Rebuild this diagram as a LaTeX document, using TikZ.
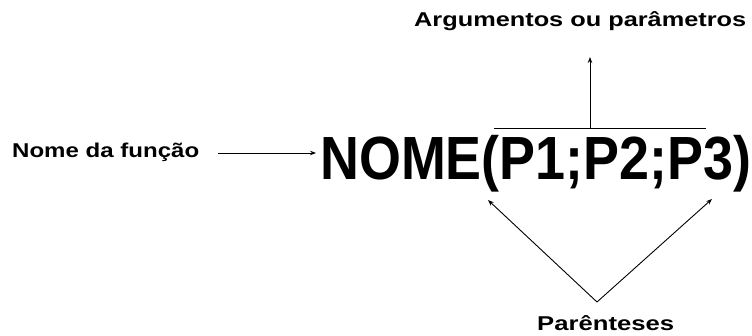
\documentclass[tikz,border=0pt]{standalone}
\usepackage{fontspec}
\setmainfont{Liberation Sans}
\usetikzlibrary{arrows.meta}
\newcommand{\fitw}[2]{\resizebox{#1}{\height}{#2}}
\begin{document}
\begin{tikzpicture}[x=1pt,y=1pt,
  lbl/.style={inner sep=0pt, anchor=base west, font=\fontsize{20}{22}\selectfont\bfseries},
  big/.style={inner sep=0pt, anchor=base west, font=\fontsize{61}{66}\selectfont\bfseries},
  arr/.style={-{Stealth[length=6pt,width=4.5pt]}, line width=0.9pt},
  ln/.style={line width=0.9pt}]
\useasboundingbox (0,0) rectangle (752,-336);
\node[lbl] (arg) at (414,-27) {\fitw{332pt}{Argumentos ou parâmetros}};
\node[lbl] (nome) at (12,-158) {\fitw{187pt}{Nome da função}};
\node[big] (func) at (320,-180) {\fitw{431pt}{NOME(P1;P2;P3)}};
\node[lbl] (par) at (537,-331) {\fitw{137pt}{Parênteses}};
% overline and arrow to arguments
\coordinate (ovl) at (494,-128);
\coordinate (ovr) at (706,-128);
\coordinate (ovm) at (590,-128);
\draw[ln] (ovl) -- (ovr);
\draw[arr] (ovm) -- (590,-57);
% arrow from name label
\coordinate (na) at (218,-153);
\coordinate (nb) at (316,-153);
\draw[arr] (na) -- (nb);
% V arrows to parentheses
\coordinate (apex) at (597,-302);
\coordinate (lp) at (488,-200);
\coordinate (rp) at (712,-199);
\draw[arr] (apex) -- (lp);
\draw[arr] (apex) -- (rp);
\end{tikzpicture}
\end{document}
